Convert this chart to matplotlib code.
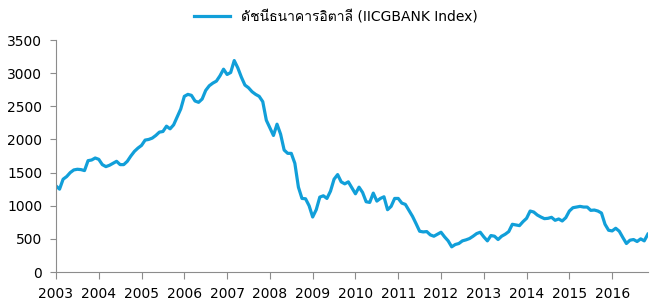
import numpy as np
import matplotlib
matplotlib.use('Agg')
import matplotlib.pyplot as plt
from matplotlib import font_manager
from matplotlib.ft2font import FT2Font

# monthly index values, Jan 2003 .. Nov 2016
v2003 = [1300, 1250, 1400, 1440, 1500, 1540, 1550, 1545, 1530, 1680, 1690, 1720]
v2004 = [1700, 1620, 1590, 1610, 1640, 1670, 1620, 1620, 1670, 1750, 1820, 1870]
v2005 = [1910, 1990, 2000, 2020, 2060, 2110, 2120, 2200, 2160, 2220, 2340, 2460]
v2006 = [2650, 2680, 2665, 2580, 2560, 2610, 2740, 2810, 2850, 2880, 2960, 3060]
v2007 = [2980, 3010, 3190, 3080, 2940, 2820, 2780, 2720, 2680, 2650, 2570, 2290]
v2008 = [2175, 2060, 2230, 2080, 1840, 1790, 1790, 1640, 1280, 1110, 1105, 1000]
v2009 = [830, 940, 1130, 1150, 1110, 1220, 1400, 1470, 1360, 1330, 1360, 1270]
v2010 = [1180, 1280, 1200, 1060, 1050, 1190, 1070, 1110, 1135, 940, 990, 1110]
v2011 = [1110, 1040, 1020, 930, 840, 730, 615, 605, 610, 560, 540, 570]
v2012 = [600, 530, 470, 380, 415, 430, 470, 485, 505, 540, 580, 600]
v2013 = [530, 470, 550, 540, 490, 540, 570, 610, 720, 710, 700, 760]
v2014 = [810, 920, 905, 860, 830, 805, 810, 825, 780, 800, 770, 820]
v2015 = [920, 970, 980, 990, 980, 980, 930, 935, 920, 890, 720, 630]
v2016 = [620, 660, 615, 520, 430, 480, 490, 460, 500, 470, 570]

values = v2003 + v2004 + v2005 + v2006 + v2007 + v2008 + v2009 + v2010 + \
    v2011 + v2012 + v2013 + v2014 + v2015 + v2016
years = list(range(2003, 2017))
label = 'ดัชนีธนาคารอิตาลี (IICGBANK Index)'

# find a font that has Thai glyphs
thai_font = None
for f in font_manager.fontManager.ttflist:
    try:
        if 0x0E14 in FT2Font(f.fname).get_charmap():
            thai_font = f.name
            break
    except Exception:
        pass
fams = ['DejaVu Sans'] + ([thai_font] if thai_font else [])
plt.rcParams['font.family'] = fams
plt.rcParams['font.size'] = 10

x = 2003 + np.arange(len(values)) / 12.0

fig = plt.figure(figsize=(6.57, 3.02), dpi=100)
ax = fig.add_axes([0.0852, 0.0993, 0.9008, 0.7682])
ax.plot(x, values, color='#119FD9', lw=2.3, label=label)

ax.set_xlim(2003, x[-1])
ax.set_ylim(0, 3500)
ax.set_yticks(np.arange(0, 3501, 500))
ax.set_xticks(years)
ax.set_xticklabels([str(y) for y in years])

for s in ['top', 'right']:
    ax.spines[s].set_visible(False)
for s in ['left', 'bottom']:
    ax.spines[s].set_color('#8C8C8C')
ax.tick_params(axis='both', colors='#8C8C8C', labelcolor='black', labelsize=10, length=4)
ax.tick_params(axis='x', pad=6, length=5)
ax.tick_params(axis='y', pad=6)

ax.legend(loc='center', bbox_to_anchor=(336 / 657, 1 - 17 / 302), bbox_transform=fig.transFigure,
          frameon=False, handlelength=2.6, fontsize=10, borderaxespad=0)

fig.savefig('out.png', dpi=100)
